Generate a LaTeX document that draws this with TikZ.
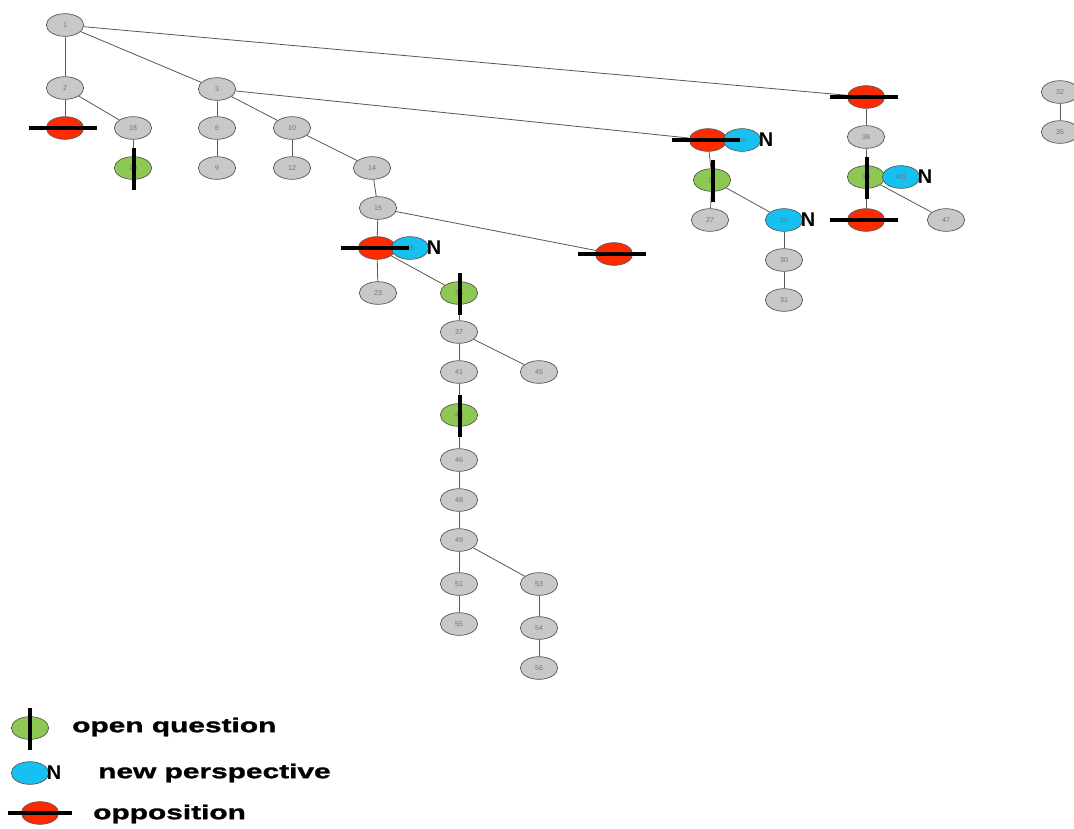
\documentclass[tikz,border=0pt]{standalone}
\usepackage{fontspec}
\setsansfont{Liberation Sans}
\newfontfamily\legfont{Liberation Sans}[BoldFeatures={FakeStretch=1.5,FakeBold=1.5}]
\usetikzlibrary{shapes.geometric}
\definecolor{ndgray}{RGB}{200,200,200}
\definecolor{oppred}{RGB}{255,42,0}
\definecolor{qgreen}{RGB}{140,200,82}
\definecolor{npblue}{RGB}{22,192,240}
\pgfdeclarelayer{bg}
\pgfsetlayers{bg,main}
\begin{document}
\begin{tikzpicture}[x=0.03cm, y=-0.03cm,
  nd/.style={ellipse, minimum width=1.12cm, minimum height=0.68cm, inner sep=0pt,
    fill=#1, draw=black!65, line width=0.6pt,
    font=\fontsize{6}{6}\selectfont\sffamily, text=black!55},
  nd/.default=ndgray,
  link/.style={draw=black!65, line width=0.7pt},
  qbar/.style={line width=3pt, black},
  oppbar/.style={line width=3pt, black},
  nmark/.style={font=\fontsize{17}{17}\selectfont\bfseries\sffamily, inner sep=0pt, anchor=west},
  legtext/.style={font=\fontsize{17}{17}\selectfont\legfont\bfseries, inner sep=0pt, anchor=west}]
\useasboundingbox (0,0) rectangle (1074,828);
% plain postings
\foreach \name/\x/\y in {1/65/25, 2/65/88, 3/217/89, 18/133/128, 6/217/128, 9/217/168,
  10/292/128, 12/292/168, 14/372/168, 15/378/208, 23/378/293, 37/459/332, 41/459/372,
  45/539/372, 46/459/460, 48/459/500, 49/459/540, 51/459/584, 53/539/584, 55/459/624,
  54/539/628, 56/539/668, 27/710/220, 30/784/260, 31/784/300, 38/866/137, 47/946/220,
  32/1060/92, 35/1060/132}
  \node[nd] (n\name) at (\x,\y) {\name};
% opposition
\node[nd=oppred] (o4) at (65,128) {4};
\node[nd=oppred] (o21) at (377,248) {21};
\node[nd=oppred] (o22) at (614,254) {22};
\node[nd=oppred] (o8) at (708,140) {8};
\node[nd=oppred] (o36) at (866,97) {36};
\node[nd=oppred] (o42) at (866,220) {42};
% open questions
\node[nd=qgreen] (q20) at (133,168) {20};
\node[nd=qgreen] (q34) at (459,293) {34};
\node[nd=qgreen] (q43) at (459,415) {43};
\node[nd=qgreen] (q17) at (712,180) {17};
\node[nd=qgreen] (q39) at (866,177) {39};
% new perspectives
\node[nd=npblue] (p28) at (410,248) {28};
\node[nd=npblue] (p16) at (742,140) {16};
\node[nd=npblue] (p26) at (784,220) {26};
\node[nd=npblue] (p401) at (901,177) {401};
\foreach \n in {p28,p16,p26,p401}
  \node[nmark] (N\n) at ([xshift=-2pt]\n.east) {N};
% marks
\foreach \n in {o4,o21,o22,o8,o36,o42}
  \draw[oppbar] ([xshift=-0.5cm]\n.west) -- ([xshift=0.4cm]\n.east);
\foreach \n in {q20,q34,q43,q17,q39}
  \draw[qbar] ([xshift=1pt,yshift=0.25cm]\n.north) -- ([xshift=1pt,yshift=-0.3cm]\n.south);
% replies
\begin{pgfonlayer}{bg}
\foreach \a/\b in {n1/n2, n1/n3, n1/o36, n2/o4, n2/n18, n18/q20, n3/n6, n3/n10, n3/o8,
  n6/n9, n10/n12, n10/n14, n14/n15, n15/o21, n15/o22, o21/n23, o21/q34, q34/n37,
  n37/n41, n37/n45, n41/q43, q43/n46, n46/n48, n48/n49, n49/n51, n49/n53, n51/n55,
  n53/n54, n54/n56, o8/q17, q17/n27, q17/p26, p26/n30, n30/n31, o36/n38, n38/q39,
  q39/o42, q39/n47, n32/n35}
  \draw[link] (\a) -- (\b);
\end{pgfonlayer}
% legend
\node[nd=qgreen] (lq) at (30,728) {};
\draw[qbar] ([yshift=0.25cm]lq.north) -- ([yshift=-0.3cm]lq.south);
\node[legtext] (tq) at (72,727) {open question};
\node[nd=npblue] (lp) at (30,773) {};
\node[nmark] (lN) at ([xshift=-2pt]lp.east) {N};
\node[legtext] (tp) at (98,773) {new perspective};
\node[nd=oppred] (lo) at (40,813) {};
\draw[oppbar] ([xshift=-0.4cm]lo.west) -- ([xshift=0.4cm]lo.east);
\node[legtext] (to) at (93,814) {opposition};
\end{tikzpicture}
\end{document}
